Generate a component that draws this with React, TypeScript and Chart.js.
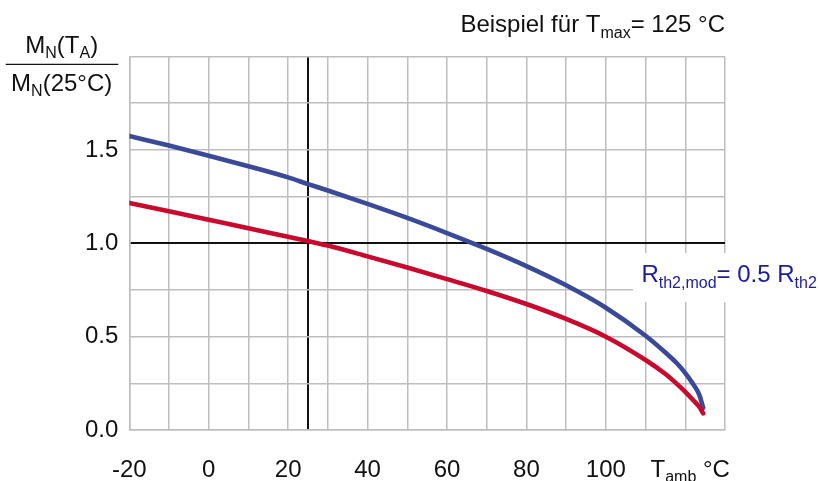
import React, { useEffect, useRef } from 'react';
import { Chart, registerables } from 'chart.js';

Chart.register(...registerables);

// ---- data ----
const temperatures = [-20, -10, 0, 10, 20, 25, 30, 40, 50, 60, 70, 80, 90, 100, 110, 115, 118, 120, 122, 123.5, 124.5];
const ratioHalfRth2 = [1.574, 1.523, 1.469, 1.413, 1.353, 1.317, 1.283, 1.211, 1.136, 1.055, 0.97, 0.878, 0.775, 0.655, 0.505, 0.415, 0.355, 0.305, 0.245, 0.19, 0.12];
const ratioRth2 = [1.216, 1.171, 1.126, 1.081, 1.035, 1.012, 0.988, 0.93, 0.87, 0.808, 0.745, 0.675, 0.595, 0.5, 0.375, 0.3, 0.245, 0.205, 0.16, 0.125, 0.09];
const xTickLabels = [-20, 0, 20, 40, 60, 80, 100];
const yTickLabels = [0, 0.5, 1.0, 1.5];
const referenceTemp = 25;
const referenceRatio = 1.0;

const FONT = '"Liberation Sans", Arial, Helvetica, sans-serif';
const TEXT = '#111111';
const GRID = '#bdbdbd';
const BLUE = '#3a4a98';
const RED = '#c80a2e';
const LABEL_BLUE = '#1c1ca0';

type Run = { t: string; sub?: boolean };

function drawRuns(
  ctx: CanvasRenderingContext2D,
  runs: Run[],
  x: number,
  y: number,
  align: 'left' | 'center' | 'right',
  color: string,
  main = 24,
  sub = 16,
  subDy = 5.5
) {
  ctx.save();
  ctx.fillStyle = color;
  ctx.textBaseline = 'alphabetic';
  ctx.textAlign = 'left';
  const widths = runs.map((r) => {
    ctx.font = `${r.sub ? sub : main}px ${FONT}`;
    return ctx.measureText(r.t).width;
  });
  const total = widths.reduce((a, b) => a + b, 0);
  let cx = align === 'left' ? x : align === 'center' ? x - total / 2 : x - total;
  runs.forEach((r, i) => {
    ctx.font = `${r.sub ? sub : main}px ${FONT}`;
    ctx.fillText(r.t, cx, y + (r.sub ? subDy : 0));
    cx += widths[i];
  });
  ctx.restore();
}

const textPlugin = {
  id: 'extraTexts',
  beforeDatasetsDraw(chart: any) {
    const ctx = chart.ctx as CanvasRenderingContext2D;
    ctx.save();
    ctx.fillStyle = '#ffffff';
    ctx.fillRect(633, 253, 187, 49);
    ctx.restore();
  },
  afterDraw(chart: any) {
    const ctx = chart.ctx as CanvasRenderingContext2D;
    // title
    drawRuns(ctx, [{ t: 'Beispiel für T' }, { t: 'max', sub: true }, { t: '= 125 °C' }], 725, 32.3, 'right', TEXT, 24, 16, 5.4);
    // y-axis fraction label
    drawRuns(ctx, [{ t: 'M' }, { t: 'N', sub: true }, { t: '(T' }, { t: 'A', sub: true }, { t: ')' }], 61.7, 52.7, 'center', TEXT, 24, 16, 5);
    drawRuns(ctx, [{ t: 'M' }, { t: 'N', sub: true }, { t: '(25°C)' }], 61.7, 90.7, 'center', TEXT, 24, 16, 5);
    ctx.save();
    ctx.strokeStyle = TEXT;
    ctx.lineWidth = 1.3;
    ctx.beginPath();
    ctx.moveTo(5.7, 64.3);
    ctx.lineTo(118.3, 64.3);
    ctx.stroke();
    ctx.restore();
    // x-axis unit label
    drawRuns(ctx, [{ t: 'T' }, { t: 'amb', sub: true }, { t: ' °C' }], 650.5, 476.5, 'left', TEXT, 24, 16, 5.5);
    // curve label
    drawRuns(ctx, [{ t: 'R' }, { t: 'th2,mod', sub: true }, { t: '= 0.5 R' }, { t: 'th2', sub: true }], 641.4, 281.7, 'left', LABEL_BLUE, 24, 16, 6);
  },
};

export default function App() {
  const canvasRef = useRef<HTMLCanvasElement | null>(null);

  useEffect(() => {
    const canvas = canvasRef.current;
    if (!canvas) return;
    const chart = new Chart(canvas, {
      type: 'line',
      data: {
        datasets: [
          {
            label: 'R_th2',
            data: temperatures.map((t, i) => ({ x: t, y: ratioRth2[i] })),
            borderColor: RED,
            borderWidth: 4.6,
            borderCapStyle: 'round',
            borderJoinStyle: 'round',
            pointRadius: 0,
            cubicInterpolationMode: 'monotone',
            fill: false,
            order: 1,
          },
          {
            label: 'R_th2,mod = 0.5 R_th2',
            data: temperatures.map((t, i) => ({ x: t, y: ratioHalfRth2[i] })),
            borderColor: BLUE,
            borderWidth: 4.6,
            borderCapStyle: 'round',
            borderJoinStyle: 'round',
            pointRadius: 0,
            cubicInterpolationMode: 'monotone',
            fill: false,
            order: 2,
          },
        ],
      },
      options: {
        responsive: false,
        animation: false,
        devicePixelRatio: 1,
        layout: { padding: { left: 0, top: 56.5, right: 95, bottom: 0 } },
        plugins: {
          legend: { display: false },
          tooltip: { enabled: false },
          title: { display: false },
        },
        scales: {
          x: {
            type: 'linear',
            min: -20,
            max: 130,
            afterBuildTicks: (scale: any) => {
              scale.ticks.push({ value: referenceTemp });
              scale.ticks.sort((a: any, b: any) => a.value - b.value);
            },
            afterFit: (scale: any) => {
              scale.height = 481 - 430.1;
            },
            ticks: {
              stepSize: 10,
              autoSkip: false,
              maxRotation: 0,
              padding: 26,
              color: TEXT,
              font: { family: FONT, size: 24 },
              callback: (v: any) => (xTickLabels.includes(Number(v)) ? String(v) : ''),
            },
            grid: {
              drawTicks: false,
              color: (c: any) => (c.tick && c.tick.value === referenceTemp ? '#111111' : GRID),
              lineWidth: (c: any) => (c.tick && c.tick.value === referenceTemp ? 2 : 1.5),
            },
            border: { color: GRID, width: 1.5 },
          },
          y: {
            type: 'linear',
            min: 0,
            max: 2,
            afterFit: (scale: any) => {
              scale.width = 129.3;
            },
            ticks: {
              stepSize: 0.25,
              autoSkip: false,
              padding: 11,
              color: TEXT,
              font: { family: FONT, size: 24 },
              callback: (v: any) => (yTickLabels.includes(Number(v)) ? Number(v).toFixed(1) : ''),
            },
            grid: {
              drawTicks: false,
              color: (c: any) => (c.tick && c.tick.value === referenceRatio ? '#111111' : GRID),
              lineWidth: (c: any) => (c.tick && c.tick.value === referenceRatio ? 2 : 1.5),
            },
            border: { color: GRID, width: 1.5 },
          },
        },
      },
      plugins: [textPlugin],
    } as any);
    return () => chart.destroy();
  }, []);

  return (
    <div style={{ position: 'fixed', left: 0, top: 0, width: 820, height: 481, background: '#ffffff' }}>
      <canvas ref={canvasRef} width={820} height={481} style={{ display: 'block', width: 820, height: 481 }} />
    </div>
  );
}
